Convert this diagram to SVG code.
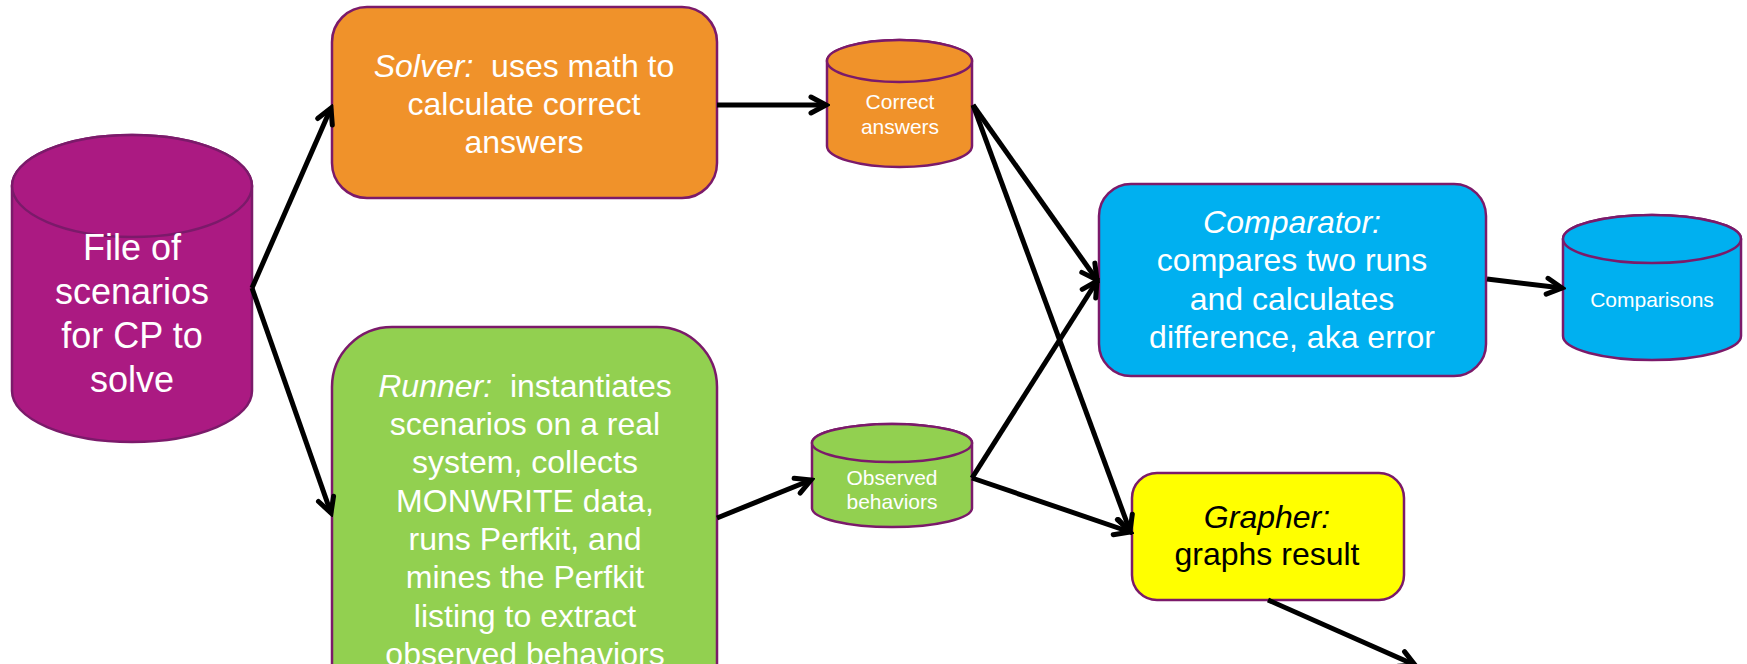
<svg xmlns="http://www.w3.org/2000/svg" width="1747" height="664" viewBox="0 0 1747 664">
<defs>
<style>
.box{stroke:#7B1A6A;stroke-width:2.5}
.t{font-family:"Liberation Sans",Arial,sans-serif;text-anchor:middle;white-space:pre}
.big{font-size:32px;fill:#fff}
.huge{font-size:36px;fill:#fff}
.sm{font-size:21px;fill:#fff}
.dark{fill:#000}
.it{font-style:italic}
.c{stroke:#000;stroke-width:5;fill:none;marker-end:url(#ah)}
</style>
<marker id="ah" viewBox="0 0 24 24" refX="20" refY="12" markerWidth="24" markerHeight="24" markerUnits="userSpaceOnUse" orient="auto">
<path d="M5,4 L20,12 L5,20" fill="none" stroke="#000" stroke-width="5" stroke-linecap="round" stroke-linejoin="miter"/>
</marker>
</defs>
<rect width="1747" height="664" fill="#fff"/>

<g id="file">
<path class="box" fill="#AB1A82" d="M12,186 A120,51 0 0 1 252,186 V391 A120,51 0 0 1 12,391 Z"/>
<ellipse class="box" fill="#AB1A82" cx="132" cy="186" rx="120" ry="51"/>
<text class="t huge" x="132" y="260">File of</text>
<text class="t huge" x="132" y="304">scenarios</text>
<text class="t huge" x="132" y="348">for CP to</text>
<text class="t huge" x="132" y="392">solve</text>
</g>

<g id="solver">
<rect class="box" fill="#F0922A" x="332" y="7" width="385" height="191" rx="35"/>
<text class="t big" x="524" y="77" xml:space="preserve"><tspan class="it">Solver:</tspan>  uses math to</text>
<text class="t big" x="524" y="115">calculate correct</text>
<text class="t big" x="524" y="153">answers</text>
</g>

<g id="runner">
<rect class="box" fill="#92D050" x="332" y="327" width="385" height="420" rx="60"/>
<text class="t big" x="525" y="397" xml:space="preserve"><tspan class="it">Runner:</tspan>  instantiates</text>
<text class="t big" x="525" y="435">scenarios on a real</text>
<text class="t big" x="525" y="473">system, collects</text>
<text class="t big" x="525" y="512">MONWRITE data,</text>
<text class="t big" x="525" y="550">runs Perfkit, and</text>
<text class="t big" x="525" y="588">mines the Perfkit</text>
<text class="t big" x="525" y="627">listing to extract</text>
<text class="t big" x="525" y="665">observed behaviors</text>
</g>

<g id="correct">
<path class="box" fill="#F0922A" d="M827,61 A72.5,21 0 0 1 972,61 V146 A72.5,21 0 0 1 827,146 Z"/>
<ellipse class="box" fill="#F0922A" cx="899.5" cy="61" rx="72.5" ry="21"/>
<text class="t sm" x="900" y="109">Correct</text>
<text class="t sm" x="900" y="134">answers</text>
</g>

<g id="observed">
<path class="box" fill="#92D050" d="M812,443 A80,19 0 0 1 972,443 V508 A80,19 0 0 1 812,508 Z"/>
<ellipse class="box" fill="#92D050" cx="892" cy="443" rx="80" ry="19"/>
<text class="t sm" x="892" y="485">Observed</text>
<text class="t sm" x="892" y="509">behaviors</text>
</g>

<g id="comparator">
<rect class="box" fill="#00B0F0" x="1099" y="184" width="387" height="192" rx="32"/>
<text class="t big it" x="1292" y="233">Comparator:</text>
<text class="t big" x="1292" y="271">compares two runs</text>
<text class="t big" x="1292" y="310">and calculates</text>
<text class="t big" x="1292" y="348">difference, aka error</text>
</g>

<g id="comparisons">
<path class="box" fill="#00B0F0" d="M1563,239 A89,24 0 0 1 1741,239 V336 A89,24 0 0 1 1563,336 Z"/>
<ellipse class="box" fill="#00B0F0" cx="1652" cy="239" rx="89" ry="24"/>
<text class="t sm" x="1652" y="307">Comparisons</text>
</g>

<g id="grapher">
<rect class="box" fill="#FFFF00" x="1132" y="473" width="272" height="127" rx="25"/>
<text class="t big dark it" x="1267" y="528">Grapher:</text>
<text class="t big dark" x="1267" y="565">graphs result</text>
</g>

<g id="connectors">
<line class="c" x1="252" y1="288" x2="331" y2="108"/>
<line class="c" x1="252" y1="288" x2="331" y2="513"/>
<line class="c" x1="717" y1="105" x2="826" y2="105"/>
<line class="c" x1="717" y1="518" x2="811" y2="480"/>
<line class="c" x1="973" y1="105" x2="1097" y2="280"/>
<line class="c" x1="973" y1="105" x2="1130" y2="531"/>
<line class="c" x1="972" y1="478" x2="1097" y2="281"/>
<line class="c" x1="972" y1="478" x2="1130" y2="532"/>
<line class="c" x1="1487" y1="279" x2="1562" y2="288"/>
<line class="c" x1="1268" y1="600" x2="1415" y2="665"/>
</g>
</svg>
